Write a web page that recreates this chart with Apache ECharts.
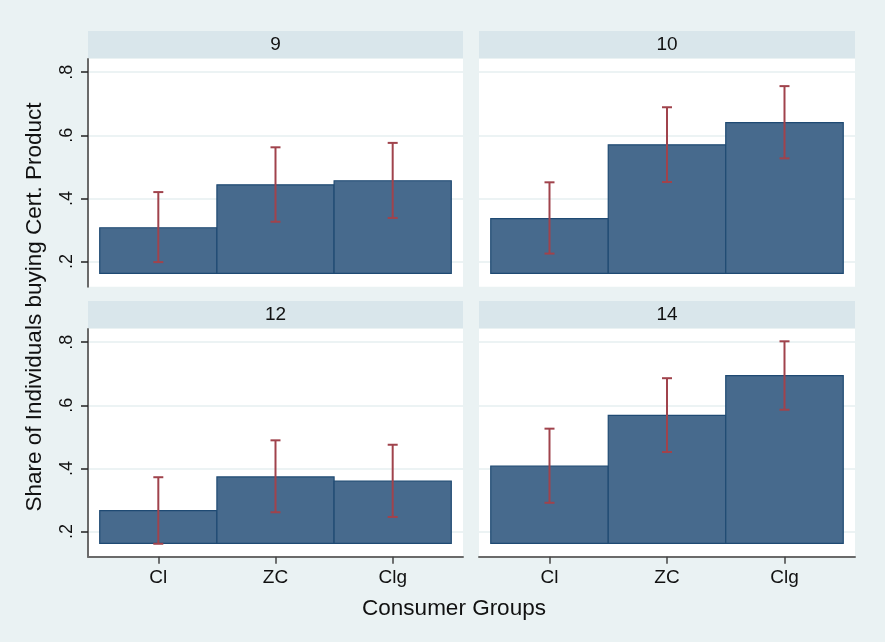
<!DOCTYPE html>
<html>
<head>
<meta charset="utf-8">
<script src="https://cdn.jsdelivr.net/npm/echarts@6/dist/echarts.min.js"></script>
<style>
html,body{margin:0;padding:0;background:#eaf2f3;}
#chart{width:885px;height:642px;}
</style>
</head>
<body>
<div id="chart"></div>
<script>
// ---- data ----
var categories = ['Cl', 'ZC', 'Clg'];
var panels = ['9', '10', '12', '14'];
var means9  = [0.307, 0.443, 0.456];
var lower9  = [0.198, 0.326, 0.338];
var upper9  = [0.420, 0.562, 0.576];
var means10 = [0.336, 0.570, 0.640];
var lower10 = [0.225, 0.452, 0.527];
var upper10 = [0.451, 0.689, 0.756];
var means12 = [0.266, 0.373, 0.360];
var lower12 = [0.161, 0.261, 0.246];
var upper12 = [0.372, 0.489, 0.475];
var means14 = [0.407, 0.568, 0.694];
var lower14 = [0.291, 0.452, 0.586];
var upper14 = [0.526, 0.686, 0.803];
var yTickValues = [0.2, 0.4, 0.6, 0.8];
var yTickLabels = ['.2', '.4', '.6', '.8'];
var barBase = 0.162;
var yTitle = 'Share of Individuals buying Cert. Product';
var xTitle = 'Consumer Groups';

var panelMeans = [means9, means10, means12, means14];
var panelLower = [lower9, lower10, lower12, lower14];
var panelUpper = [upper9, upper10, upper12, upper14];

// ---- layout ----
var gridBoxes = [
  {left: 88,  top: 59,  width: 375, height: 227.7},
  {left: 479, top: 59,  width: 376, height: 227.7},
  {left: 88,  top: 329, width: 375, height: 227.7},
  {left: 479, top: 329, width: 376, height: 227.7}
];
var headerH = 27;
var font = '"Liberation Sans", Arial, sans-serif';
var barFill = '#476a8d';
var barEdge = '#1f4a73';
var errColor = '#a0434c';
var axisGrey = '#6a6a6a';

var grids = [], xAxes = [], yAxes = [], series = [], graphics = [];

gridBoxes.forEach(function (g, i) {
  var isBottom = i >= 2, isLeft = (i % 2) === 0;
  grids.push({left: g.left, top: g.top, width: g.width, height: g.height,
    show: true, backgroundColor: '#ffffff', borderWidth: 0, containLabel: false});
  xAxes.push({
    type: 'value', gridIndex: i, min: -0.6, max: 2.6,
    splitLine: {show: false},
    axisLine: {show: isBottom, onZero: false, lineStyle: {color: axisGrey, width: 2}},
    axisTick: {show: isBottom, customValues: [0, 1, 2], length: 7, lineStyle: {color: '#444', width: 1.5}},
    axisLabel: {show: isBottom, customValues: [0, 1, 2], margin: 12,
      fontFamily: font, fontSize: 19, color: '#111',
      formatter: function (v) { return categories[Math.round(v)]; }}
  });
  yAxes.push({
    type: 'value', gridIndex: i, min: 0.12, max: 0.842,
    axisLine: {show: isLeft, onZero: false, lineStyle: {color: axisGrey, width: 2}},
    axisTick: {show: isLeft, inside: false, customValues: yTickValues, length: 7, lineStyle: {color: '#222', width: 1.5}},
    axisLabel: {show: isLeft, customValues: yTickValues, rotate: 90, margin: 12,
      fontFamily: font, fontSize: 18, color: '#111',
      formatter: function (v) {
        var k = yTickValues.findIndex(function (t) { return Math.abs(t - v) < 1e-6; });
        return k >= 0 ? yTickLabels[k] : '';
      }},
    splitLine: {show: true, lineStyle: {color: '#e6eff1', width: 1.5}}
  });

  var barData = panelMeans[i].map(function (m, k) { return [k, m]; });
  series.push({
    type: 'custom', xAxisIndex: i, yAxisIndex: i, data: barData,
    renderItem: function (params, api) {
      var x = api.value(0), y = api.value(1);
      var p1 = api.coord([x - 0.5, y]);
      var p2 = api.coord([x + 0.5, barBase]);
      return {type: 'rect',
        shape: {x: p1[0], y: p1[1], width: p2[0] - p1[0], height: p2[1] - p1[1]},
        style: {fill: barFill, stroke: barEdge, lineWidth: 1.2}};
    }
  });
  var errData = panelLower[i].map(function (lo, k) { return [k, lo, panelUpper[i][k]]; });
  series.push({
    type: 'custom', xAxisIndex: i, yAxisIndex: i, data: errData, z: 3,
    renderItem: function (params, api) {
      var x = api.value(0);
      var pl = api.coord([x, api.value(1)]);
      var pu = api.coord([x, api.value(2)]);
      var cw = 5;
      var st = {stroke: errColor, lineWidth: 2};
      return {type: 'group', children: [
        {type: 'line', shape: {x1: pl[0], y1: pl[1], x2: pu[0], y2: pu[1]}, style: st},
        {type: 'line', shape: {x1: pl[0] - cw, y1: pl[1], x2: pl[0] + cw, y2: pl[1]}, style: st},
        {type: 'line', shape: {x1: pu[0] - cw, y1: pu[1], x2: pu[0] + cw, y2: pu[1]}, style: st}
      ]};
    }
  });

  graphics.push({
    type: 'rect', left: g.left, top: g.top - headerH - 1,
    shape: {width: g.width, height: headerH},
    style: {fill: '#d9e6eb'}
  });
  graphics.push({
    type: 'text', x: g.left + g.width / 2, y: g.top - headerH / 2 - 1,
    style: {text: panels[i], fill: '#111', font: '19px ' + font,
      textAlign: 'center', textVerticalAlign: 'middle'}
  });
});

graphics.push({
  type: 'text', x: 35, y: 307, rotation: Math.PI / 2,
  style: {text: yTitle, fill: '#111', font: '22.5px ' + font,
    textAlign: 'center', textVerticalAlign: 'middle'}
});
graphics.push({
  type: 'text', x: 454, y: 609,
  style: {text: xTitle, fill: '#111', font: '22.5px ' + font,
    textAlign: 'center', textVerticalAlign: 'middle'}
});

var chart = echarts.init(document.getElementById('chart'), null, {renderer: 'canvas'});
chart.setOption({
  backgroundColor: '#eaf2f3',
  animation: false,
  grid: grids, xAxis: xAxes, yAxis: yAxes, series: series,
  graphic: graphics
});
</script>
</body>
</html>
